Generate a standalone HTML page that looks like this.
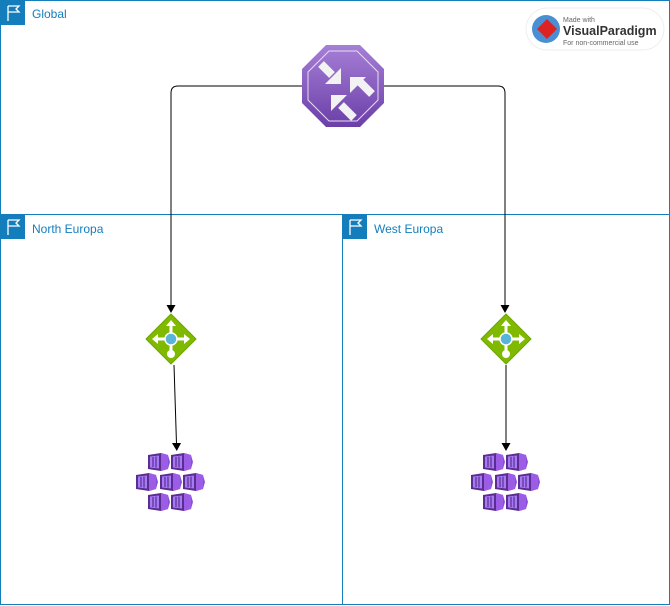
<!DOCTYPE html>
<html><head><meta charset="utf-8"><style>
html,body{margin:0;padding:0;background:#fff;width:670px;height:606px;overflow:hidden}
svg{display:block}
text{font-family:"Liberation Sans",sans-serif}
</style></head><body>
<svg width="670" height="606" viewBox="0 0 670 606" xmlns="http://www.w3.org/2000/svg">
<defs>
<g id="flag">
<rect x="0" y="0" width="24" height="24" fill="#147ebc"/>
<path d="M7 20V5 M7 5h11l-3 3 3 3H7" fill="none" stroke="#fff" stroke-width="1.3"/>
</g>
<g id="cube">
<path d="M0 2 L13 0 L13 18 L0 16Z" fill="#5c2d91"/>
<path d="M2 3.5 L11 2.5 L11 15.5 L2 14.5Z" fill="#a67af4"/>
<path d="M5 4 v10 M8 3.5 v11" stroke="#5c2d91" stroke-width="1.2"/>
<path d="M13 0 L20 2 L22 9 L20 16 L13 18Z" fill="#8a4fd8"/>
<path d="M13 0 L20 2 L20 16 L13 18Z" fill="#9b5de5"/>
</g>
<g id="cluster">
<use href="#cube" x="-23" y="-30"/><use href="#cube" x="0" y="-30"/>
<use href="#cube" x="-35" y="-10"/><use href="#cube" x="-11" y="-10"/><use href="#cube" x="12" y="-10"/>
<use href="#cube" x="-23" y="10"/><use href="#cube" x="0" y="10"/>
</g>
<g id="lb">
<path d="M0 -25 L25 0 L0 25 L-25 0Z" fill="#7fba00" stroke="#6ea300" stroke-width="1" stroke-linejoin="round"/>
<path d="M0 -17 v34 M-17 0 h34" stroke="#fff" stroke-width="3"/>
<path d="M0 -19 l-5 6 h10Z M-19 0 l6 -5 v10Z M19 0 l-6 -5 v10Z" fill="#fff"/>
<circle cx="0" cy="0" r="6" fill="#59b4d9" stroke="#fff" stroke-width="1.5"/>
<circle cx="0" cy="15" r="4" fill="#fff"/>
</g>
<linearGradient id="oct" x1="0" y1="0" x2="0" y2="1"><stop offset="0" stop-color="#a67fd6"/><stop offset="1" stop-color="#6b3fa8"/></linearGradient>
</defs>
<rect x="0.5" y="0.5" width="669" height="604" fill="none" stroke="#147ebc"/>
<line x1="0" y1="214.5" x2="670" y2="214.5" stroke="#147ebc"/>
<line x1="342.5" y1="214" x2="342.5" y2="605" stroke="#147ebc"/>
<use href="#flag" x="1" y="1"/>
<use href="#flag" x="1" y="215"/>
<use href="#flag" x="343" y="215"/>
<text x="32" y="18" font-size="12" fill="#147ebc">Global</text>
<text x="32" y="233" font-size="12" fill="#147ebc">North Europa</text>
<text x="374" y="233" font-size="12" fill="#147ebc">West Europa</text>
<rect x="526" y="8" width="138" height="42" rx="21" fill="#fff" stroke="#eee"/>
<circle cx="546" cy="29" r="14" fill="#4a8fd4"/>
<path d="M547 19 l10 10 -10 10 -10 -10Z" fill="#d22"/>
<text x="563" y="22" font-size="7" fill="#666">Made with</text>
<text x="563" y="35" font-size="12.5" font-weight="bold" fill="#333">VisualParadigm</text>
<text x="563" y="45" font-size="7" fill="#666">For non-commercial use</text>
<path d="M302 86 H178 Q171 86 171 93 V306" fill="none" stroke="#000"/>
<path d="M166.5 305 L171 313 L175.5 305Z" fill="#000"/>
<path d="M384 86 H498 Q505 86 505 93 V306" fill="none" stroke="#000"/>
<path d="M500.5 305 L505 313 L509.5 305Z" fill="#000"/>
<path d="M174 365 L176.5 444" fill="none" stroke="#000"/>
<path d="M172 443 L176.8 451 L181 443Z" fill="#000"/>
<path d="M506 365 V444" fill="none" stroke="#000"/>
<path d="M501.5 443 L506 451 L510.5 443Z" fill="#000"/>
<path d="M326 45 H360 L384 69 V103 L360 127 H326 L302 103 V69Z" fill="url(#oct)"/>
<path d="M329 51 H357 L378 72 V100 L357 121 H329 L308 100 V72Z" fill="none" stroke="#e8dcf5" stroke-width="1"/>
<!-- arrow 1: top-left pointing down-right -->
<path d="M321 64 L332 75" stroke="#f2f2f2" stroke-width="8"/>
<path d="M341 84 L341 68 L325 84Z" fill="#f2f2f2"/>
<!-- arrow 2: from lower-right pointing up-left -->
<path d="M372 94 L360 82" stroke="#f2f2f2" stroke-width="8"/>
<path d="M350 77 L366 77 L350 93Z" fill="#f2f2f2"/>
<!-- arrow 3 -->
<path d="M354 118 L341 105" stroke="#f2f2f2" stroke-width="8"/>
<path d="M331 95 L347 95 L331 111Z" fill="#f2f2f2"/>
<use href="#lb" x="171" y="339"/>
<use href="#lb" x="506" y="339"/>
<use href="#cluster" x="171" y="483"/>
<use href="#cluster" x="506" y="483"/>
</svg>
</body></html>
